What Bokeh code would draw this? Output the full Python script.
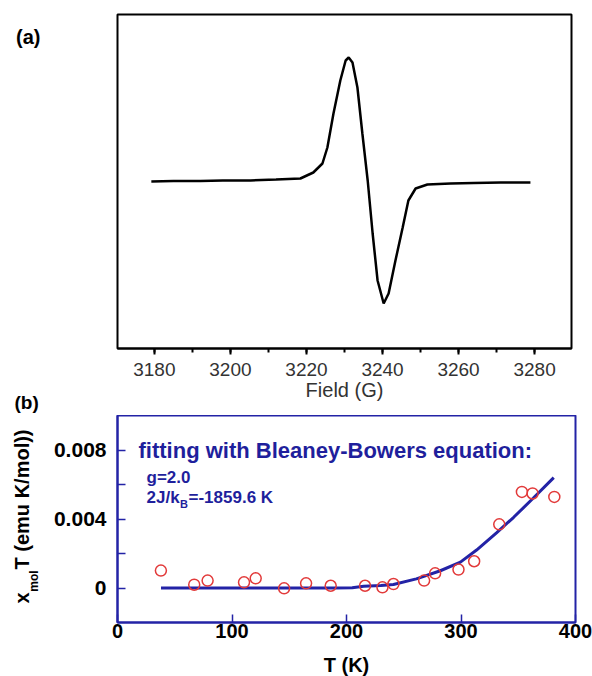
from bokeh.plotting import figure
from bokeh.models import (Label, FixedTicker, SingleIntervalTicker, Range1d,
                          LinearAxis, Title)
from bokeh.layouts import column
from bokeh.embed import file_html
from bokeh.resources import INLINE

# ---------------- data: panel (a) EPR spectrum ----------------
field_g = [3179.2, 3185.0, 3192.1, 3198.0, 3205.3, 3212.0, 3218.4, 3221.8, 3224.2,
           3225.5, 3227.1, 3228.9, 3230.3, 3231.1, 3232.1, 3233.4, 3234.7, 3236.1,
           3237.4, 3238.7, 3240.3, 3241.6, 3243.4, 3245.3, 3246.8, 3248.7, 3251.8,
           3257.9, 3264.0, 3271.1, 3278.9]
epr_signal = [0, 0.5, 0.5, 1, 1, 2, 3, 9, 18,
              34, 68, 101, 121, 124, 119, 94, 48, 1,
              -52, -99, -122, -112, -79, -46, -19, -7, -3,
              -2, -1.5, -1, -1]
field_major_step = 20
field_minor_per_major = 2

# ---------------- data: panel (b) chi_mol*T vs T ----------------
temp_k = [37.9, 67.0, 78.7, 110.5, 120.7, 145.5, 164.7, 186.2, 216.2, 231.4,
          241.0, 267.8, 277.4, 297.8, 311.5, 333.4, 353.2, 362.5, 381.5]
chi_t = [0.00101, 0.00019, 0.00043, 0.00033, 0.00056, -0.00002, 0.00027, 0.00013,
         0.00013, 0.00004, 0.00023, 0.00043, 0.00085, 0.00107, 0.00155, 0.00369,
         0.00557, 0.00548, 0.00528]
fit_temp = [38, 60, 100, 150, 190, 205, 215, 230, 241, 261, 282, 299.5, 313.6,
            331, 346, 363, 381]
fit_chi_t = [0, 0, 0, 0, 0, 0.00002, 0.0001, 0.00015, 0.0002, 0.00053, 0.001,
             0.0015, 0.0022, 0.0032, 0.0041, 0.0052, 0.0064]
t_ticks = [0, 100, 200, 300, 400]
chi_ticks = [0, 0.004, 0.008]
chi_minor_ticks = [0.002, 0.006]
chi_tick_labels = {0: "0", 0.004: "0.004", 0.008: "0.008"}

FONT = "Liberation Sans"
BLUE = "#2323a6"
TXT_BLUE = "#1f1f9c"


def text_axis(ticks_to_text, size, standoff, orientation="horizontal",
              bold=True, color="black"):
    """An axis that only shows text labels (no line, no tick marks)."""
    return LinearAxis(
        ticker=FixedTicker(ticks=list(ticks_to_text.keys())),
        major_label_overrides=dict(ticks_to_text),
        major_label_orientation=orientation,
        major_label_standoff=standoff,
        major_label_text_font=FONT,
        major_label_text_font_size=size,
        major_label_text_font_style="bold" if bold else "normal",
        major_label_text_color=color,
        axis_line_color=None,
        major_tick_line_color=None, minor_tick_line_color=None,
        major_tick_in=0, major_tick_out=0, minor_tick_in=0, minor_tick_out=0)


# ================= panel (a) =================
p1 = figure(frame_width=454, frame_height=334,
            x_range=Range1d(3170.3, 3289.7), y_range=Range1d(-167, 167),
            y_axis_location=None,
            output_backend="svg", toolbar_location=None,
            min_border_left=117, min_border_right=21,
            min_border_top=14, min_border_bottom=67)
p1.grid.visible = False
p1.outline_line_color = "black"
p1.outline_line_width = 2
p1.background_fill_color = "white"
p1.border_fill_color = "white"

ax = p1.xaxis[0]
ax.ticker = SingleIntervalTicker(interval=field_major_step,
                                 num_minor_ticks=field_minor_per_major)
ax.axis_line_width = 2
ax.axis_line_color = "black"
ax.major_tick_out = 6
ax.major_tick_in = 0
ax.minor_tick_out = 4
ax.minor_tick_in = 0
ax.major_tick_line_width = 2
ax.minor_tick_line_width = 2
ax.major_label_text_font = FONT
ax.major_label_text_font_size = "19px"
ax.major_label_text_color = "#333333"
ax.major_label_standoff = 8
ax.axis_label = "Field (G)"
ax.axis_label_text_font = FONT
ax.axis_label_text_font_style = "normal"
ax.axis_label_text_font_size = "20px"
ax.axis_label_text_color = "#333333"
ax.axis_label_standoff = 0

p1.line(field_g, epr_signal, line_color="black", line_width=2.5)


def a_y(py):
    return 181 - py


# panel tags "(a)" (left of the frame) and "(b)" (below the field axis)
p1.add_layout(text_axis({a_y(36.5): "(a)"}, "20px", 77), "left")
p1.add_layout(Title(text="(b)", align="left", offset=-103, standoff=-23,
                    vertical_align="top", text_font=FONT,
                    text_font_size="19px", text_font_style="bold",
                    text_color="black"), "below")

# ================= panel (b) =================
p2 = figure(frame_width=458, frame_height=207,
            x_range=Range1d(0, 400), y_range=Range1d(-0.002, 0.010),
            output_backend="svg", toolbar_location=None,
            min_border_left=114, min_border_right=20,
            min_border_top=0, min_border_bottom=10)
p2.grid.visible = False
p2.outline_line_color = BLUE
p2.outline_line_width = 2
p2.background_fill_color = "white"
p2.border_fill_color = "white"

bx = p2.xaxis[0]
bx.ticker = FixedTicker(ticks=t_ticks)
by = p2.yaxis[0]
by.ticker = FixedTicker(ticks=chi_ticks, minor_ticks=chi_minor_ticks)
by.major_label_overrides = chi_tick_labels
for a in (bx, by):
    a.axis_line_color = BLUE
    a.axis_line_width = 2
    a.major_tick_line_color = BLUE
    a.minor_tick_line_color = BLUE
    a.major_tick_line_width = 1.5
    a.minor_tick_line_width = 1.5
    a.major_tick_in = 8
    a.major_tick_out = 0
    a.minor_tick_in = 8
    a.minor_tick_out = 0
    a.major_label_text_font = FONT
    a.major_label_text_font_style = "bold"
    a.major_label_text_color = "black"
bx.major_label_text_font_size = "20px"
bx.major_label_standoff = 1
bx.axis_label = "T (K)"
bx.axis_label_text_font = FONT
bx.axis_label_text_font_style = "bold"
bx.axis_label_text_font_size = "20px"
bx.axis_label_text_color = "black"
bx.axis_label_standoff = 13
by.major_label_text_font_size = "21px"
by.major_label_standoff = 11

p2.line(fit_temp, fit_chi_t, line_color=BLUE, line_width=3)
p2.scatter(temp_k, chi_t, marker="circle", size=11, fill_color=None,
           line_color="#e23a3a", line_width=1.5)


def b_x(px):
    return (px - 114) / 1.145


def b_y(py):
    return (587.5 - py) / 17250.0


# rotated y title with subscript: x_mol T (emu K/mol))
p2.add_layout(text_axis({b_y(580.5): "mol"}, "12px", 10, "vertical"), "left")
p2.add_layout(text_axis({b_y(597.5): "x", b_y(499): "T (emu K/mol))"},
                        "20px", -9, "vertical"), "left")


def blabel(px, py, text, size):
    p2.add_layout(Label(x=b_x(px), y=b_y(py), text=text, text_font=FONT,
                        text_font_style="bold", text_color=TXT_BLUE,
                        text_baseline="alphabetic", text_align="left",
                        text_font_size=size))


blabel(135, 449.5, "fitting with Bleaney-Bowers equation:", "22px")
blabel(143, 476.5, "g=2.0", "17px")
blabel(143, 496.5, "2J/k", "17px")
blabel(176.5, 503, "B", "11px")
blabel(185, 496.5, "=-1859.6 K", "17px")

layout = column(p1, p2)
open("out.html", "w").write(file_html(layout, INLINE))
